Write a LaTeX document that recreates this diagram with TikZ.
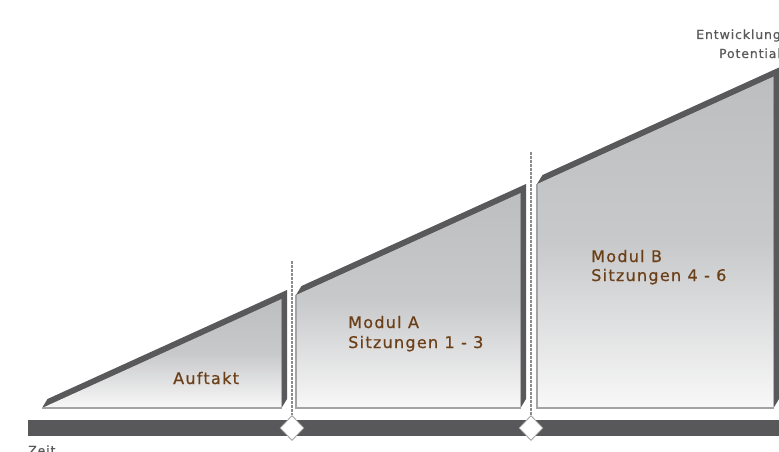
\documentclass[tikz,border=0pt]{standalone}
\usepackage{fontspec}
\usetikzlibrary{shapes.geometric,calc}
\newfontfamily\labfont{DejaVu Sans}[LetterSpace=8,FakeBold=0.7]
\newfontfamily\grfont{DejaVu Sans}[LetterSpace=7,FakeBold=0.5]
\definecolor{darkband}{HTML}{59595B}
\definecolor{barcol}{HTML}{58585A}
\definecolor{brownt}{HTML}{6B3F17}
\definecolor{graytxt}{HTML}{59595B}
\definecolor{facetop}{HTML}{BDBEC0}
\definecolor{facemid}{HTML}{C8C9CB}
\definecolor{facebot}{HTML}{F8F8F8}
\definecolor{edgegray}{HTML}{A3A3A3}
\definecolor{dashgray}{HTML}{8C8C8C}
\definecolor{diagray}{HTML}{A0A0A0}
\begin{document}
\begin{tikzpicture}[x=1pt,y=-1pt,
  band/.style={fill=darkband},
  face/.style={top color=facetop,bottom color=facebot,middle color=facemid},
  edge/.style={draw=edgegray,line width=1.2pt},
  bar/.style={fill=barcol},
  dashln/.style={draw=dashgray,line width=1.1pt,dash pattern=on 2.5pt off 1.5pt},
  dia/.style={diamond,draw=diagray,fill=white,line width=0.8pt,minimum width=24pt,minimum height=25pt,inner sep=0pt},
  lab/.style={font=\labfont\fontsize{16}{20}\selectfont,text=brownt,inner sep=0pt,anchor=base west},
  gtxt/.style={font=\grfont\fontsize{12.5}{19}\selectfont,text=graytxt,inner sep=0pt}]
\useasboundingbox (0,0) rectangle (779,452);
\fill[white] (0,0) rectangle (779,452);
% shape 1 (Auftakt)
\coordinate (s1bl) at (42,408);
\coordinate (s1tr) at (281.5,299);
\coordinate (s1br) at (281.5,408);
\fill[band] (s1bl) -- ($(s1bl)+(5.5,-9)$) -- ($(s1tr)+(5.5,-9)$) -- ($(s1br)+(5.5,-9)$) -- (s1br) -- (s1tr) -- cycle;
\fill[face] (s1bl) -- (s1tr) -- (s1br) -- cycle;
\draw[edge] (s1bl) -- (s1br);
% shape 2 (Modul A)
\coordinate (s2tl) at (296,295);
\coordinate (s2bl) at (296,408);
\coordinate (s2tr) at (520.5,193);
\coordinate (s2br) at (520.5,408);
\fill[band] (s2tl) -- ($(s2tl)+(5.5,-9)$) -- ($(s2tr)+(5.5,-9)$) -- ($(s2br)+(5.5,-9)$) -- (s2br) -- (s2tr) -- cycle;
\fill[face] (s2bl) -- (s2tl) -- (s2tr) -- (s2br) -- cycle;
\draw[edge] (s2tl) -- (s2bl) -- (s2br);
% shape 3 (Modul B)
\coordinate (s3tl) at (537,184);
\coordinate (s3bl) at (537,408);
\coordinate (s3tr) at (773.5,76.5);
\coordinate (s3br) at (773.5,408);
\fill[band] (s3tl) -- ($(s3tl)+(5.5,-9)$) -- ($(s3tr)+(5.5,-9)$) -- ($(s3br)+(5.5,-9)$) -- (s3br) -- (s3tr) -- cycle;
\fill[face] (s3bl) -- (s3tl) -- (s3tr) -- (s3br) -- cycle;
\draw[edge] (s3tl) -- (s3bl) -- (s3br);
% time bar
\fill[bar] (28,420) rectangle (790,436);
% milestones
\coordinate (t1) at (292,261);
\coordinate (t2) at (531,152);
\node[dia] (d1) at (292,428) {};
\node[dia] (d2) at (531,428) {};
\draw[dashln] (t1) -- (d1);
\draw[dashln] (t2) -- (d2);
% labels
\node[lab] (auf) at (173,384) {Auftakt};
\node[lab] (ma1) at (348,328) {Modul A};
\node[lab] (ma2) at (348,348) {Sitzungen 1 - 3};
\node[lab] (mb1) at (591,262) {Modul B};
\node[lab] (mb2) at (591,281) {Sitzungen 4 - 6};
\node[gtxt,anchor=base east] (ent) at (781,39) {Entwicklung};
\node[gtxt,anchor=base east] (pot) at (781,58) {Potential};
\node[gtxt,anchor=base west] (zeit) at (28,455) {Zeit};
\end{tikzpicture}
\end{document}
